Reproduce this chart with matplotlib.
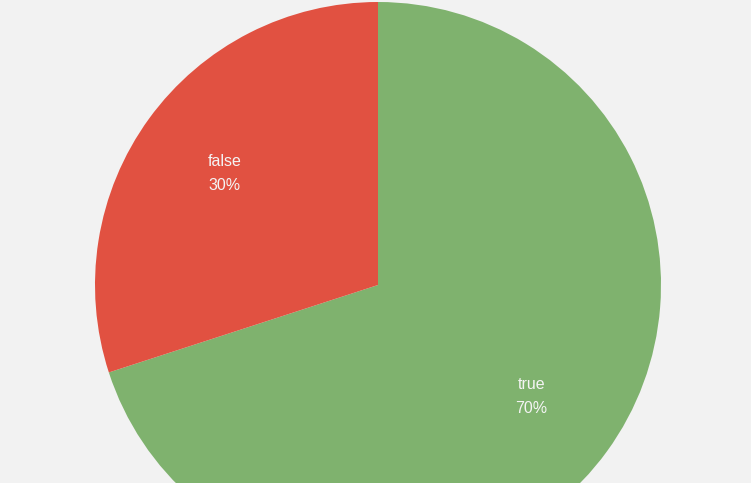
import matplotlib.pyplot as plt

# data
categories = ["true", "false"]
values = [70, 30]
colors = ["#7fb26e", "#e15141"]

W, H = 751, 483
fig = plt.figure(figsize=(W / 100, H / 100), dpi=100)
fig.patch.set_facecolor("#f2f2f2")
ax = fig.add_axes([0, 0, 1, 1])
ax.set_facecolor("#f2f2f2")

names = iter(categories)
wedges, texts, autotexts = ax.pie(
    values, colors=colors, startangle=90, counterclock=False,
    center=(378, H - 285), radius=283, frame=True,
    autopct=lambda p: "%s\n%d%%" % (next(names), round(p)),
    pctdistance=0.67,
    wedgeprops=dict(edgecolor="none"),
    textprops=dict(color="#f4f4f4", fontsize=11.5, family="Liberation Sans"))
for t in autotexts:
    t.set_linespacing(1.75)
    t.set_ha("center")
    t.set_va("center")

ax.set_xlim(0, W)
ax.set_ylim(0, H)
ax.set_aspect("equal")
ax.axis("off")

fig.savefig("out.png", dpi=100, facecolor=fig.get_facecolor())
